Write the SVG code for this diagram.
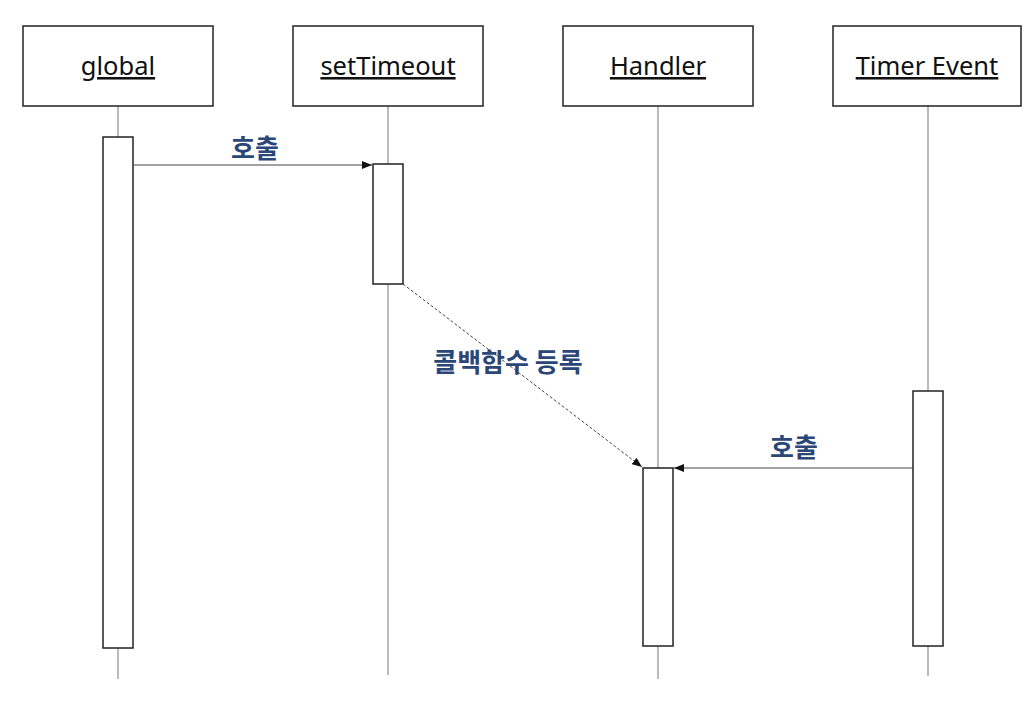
<svg xmlns="http://www.w3.org/2000/svg" width="1034" height="716" viewBox="0 0 1034 716">
<style>
.box{fill:#fff;stroke:#222;stroke-width:1.5}
.act{fill:#fff;stroke:#222;stroke-width:1.5}
.life{stroke:#777;stroke-width:1}
.title{font-family:"Noto Sans","Open Sans",sans-serif;font-size:25.5px;fill:#111;text-anchor:middle;text-decoration:underline}
.msg{stroke:#444;stroke-width:1;fill:none}
.lbl{font-family:"Noto Sans CJK KR","Noto Sans",sans-serif;font-size:26px;font-weight:bold;fill:#2b4778;text-anchor:middle}
</style>
<defs>
<marker id="arr" markerWidth="10" markerHeight="8" refX="10" refY="4" orient="auto" markerUnits="userSpaceOnUse">
<path d="M0,0 L10,4 L0,8 Z" fill="#111"/>
</marker>
</defs>
<g id="global">
<line class="life" x1="118" y1="106" x2="118" y2="679"/>
<rect class="box" x="23" y="26" width="190" height="80"/>
<text class="title" x="118" y="75">global</text>
<rect class="act" x="103" y="137" width="30" height="511"/>
</g>
<g id="setTimeout">
<line class="life" x1="388" y1="106" x2="388" y2="675"/>
<rect class="box" x="293" y="26" width="190" height="80"/>
<text class="title" x="388" y="75">setTimeout</text>
<rect class="act" x="373" y="164" width="30" height="120"/>
</g>
<g id="Handler">
<line class="life" x1="658" y1="106" x2="658" y2="679"/>
<rect class="box" x="563" y="26" width="190" height="80"/>
<text class="title" x="658" y="75">Handler</text>
<rect class="act" x="643" y="468" width="30" height="178"/>
</g>
<g id="TimerEvent">
<line class="life" x1="928" y1="106" x2="928" y2="676"/>
<rect class="box" x="833" y="26" width="188" height="80"/>
<text class="title" x="927" y="75">Timer Event</text>
<rect class="act" x="913" y="391" width="30" height="255"/>
</g>
<g id="connectors">
<line class="msg" x1="133" y1="165" x2="372" y2="165" marker-end="url(#arr)"/>
<text class="lbl" x="255" y="158">호출</text>
<line class="msg" x1="403" y1="284" x2="642" y2="467" stroke-dasharray="3,2" marker-end="url(#arr)"/>
<text class="lbl" x="508" y="372">콜백함수 등록</text>
<line class="msg" x1="913" y1="468" x2="674" y2="468" marker-end="url(#arr)"/>
<text class="lbl" x="794" y="457">호출</text>
</g>
</svg>
